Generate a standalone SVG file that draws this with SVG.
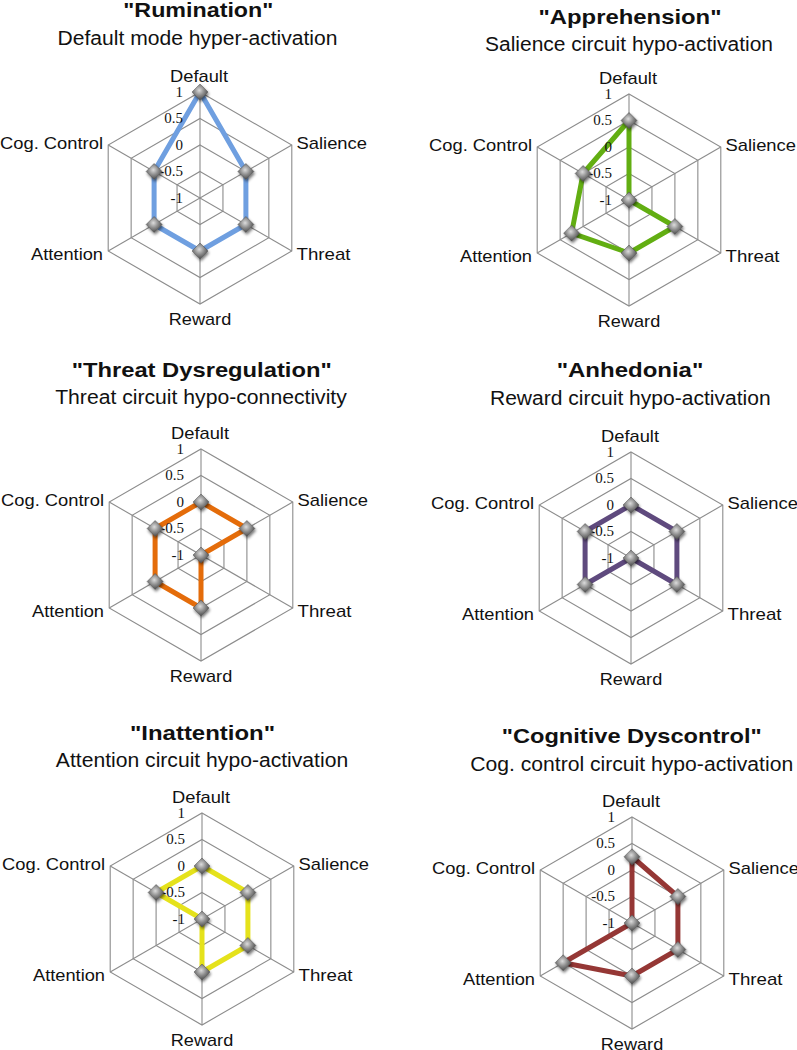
<svg xmlns="http://www.w3.org/2000/svg" xmlns:xlink="http://www.w3.org/1999/xlink" width="797" height="1050" viewBox="0 0 797 1050">
<style>
.grid{fill:none;stroke:#8c8c8c;stroke-width:1.1}
.t{font-family:"Liberation Sans",Arial,sans-serif;font-weight:bold;font-size:21px;fill:#111;text-anchor:middle}
.st{font-family:"Liberation Sans",Arial,sans-serif;font-size:20px;fill:#111;text-anchor:middle}
.ax{font-family:"Liberation Sans",Arial,sans-serif;font-size:17px;fill:#111}
.num{font-family:"Liberation Serif","Times New Roman",serif;font-size:15px;fill:#111;text-anchor:end}
.data{fill:none;stroke-width:5;stroke-linejoin:round;stroke-linecap:round}
</style>
<defs>
<radialGradient id="mg" cx="0.45" cy="0.4" r="0.62">
<stop offset="0" stop-color="#dcdcdc"/>
<stop offset="0.5" stop-color="#8c8c8c"/>
<stop offset="1" stop-color="#454545"/>
</radialGradient>
<filter id="sh" x="-60%" y="-60%" width="220%" height="220%">
<feGaussianBlur in="SourceAlpha" stdDeviation="1.5"/>
<feOffset dx="1" dy="1.5" result="o"/>
<feComponentTransfer><feFuncA type="linear" slope="0.55"/></feComponentTransfer>
<feMerge><feMergeNode/><feMergeNode in="SourceGraphic"/></feMerge>
</filter>
<path id="dia" d="M0,-8 L8,0 L0,8 L-8,0Z" fill="url(#mg)" stroke="#555" stroke-width="0.5" filter="url(#sh)"/>
<g id="grid">
<polygon class="grid" points="0,-106 91.8,-53 91.8,53 0,106 -91.8,53 -91.8,-53"/>
<polygon class="grid" points="0,-79.5 68.85,-39.75 68.85,39.75 0,79.5 -68.85,39.75 -68.85,-39.75"/>
<polygon class="grid" points="0,-53 45.9,-26.5 45.9,26.5 0,53 -45.9,26.5 -45.9,-26.5"/>
<polygon class="grid" points="0,-26.5 22.95,-13.25 22.95,13.25 0,26.5 -22.95,13.25 -22.95,-13.25"/>
<line class="grid" x1="0" y1="-106" x2="0" y2="106"/>
<line class="grid" x1="91.8" y1="-53" x2="-91.8" y2="53"/>
<line class="grid" x1="91.8" y1="53" x2="-91.8" y2="-53"/>
</g>
<g id="axlabels">
<text class="ax" x="-1" y="-116" text-anchor="middle" textLength="58" lengthAdjust="spacingAndGlyphs">Default</text>
<text class="ax" x="96.5" y="-49.5" textLength="70.5" lengthAdjust="spacingAndGlyphs">Salience</text>
<text class="ax" x="96.5" y="61.5" textLength="54" lengthAdjust="spacingAndGlyphs">Threat</text>
<text class="ax" x="0" y="127" text-anchor="middle" textLength="62.5" lengthAdjust="spacingAndGlyphs">Reward</text>
<text class="ax" x="-97" y="62" text-anchor="end" textLength="72" lengthAdjust="spacingAndGlyphs">Attention</text>
<text class="ax" x="-97" y="-49.5" text-anchor="end" textLength="103" lengthAdjust="spacingAndGlyphs">Cog. Control</text>
</g>
<g id="nums">
<text class="num" x="-17" y="-101.5">1</text>
<text class="num" x="-17" y="-75.5">0.5</text>
<text class="num" x="-17" y="-48.5">0</text>
<text class="num" x="-17" y="-22">-0.5</text>
<text class="num" x="-17" y="5">-1</text>
</g>
</defs>

<g id="chart-rumination">
<text class="t" x="198.3" y="17" textLength="150" lengthAdjust="spacingAndGlyphs">"Rumination"</text>
<text class="st" x="197.5" y="45" textLength="280" lengthAdjust="spacingAndGlyphs">Default mode hyper-activation</text>
<g transform="translate(200,198)">
<use href="#grid"/><use href="#axlabels"/>
<polygon class="data" stroke="#6F9FE0" points="0,-106 45.9,-26.5 45.9,26.5 0,53 -45.9,26.5 -45.9,-26.5"/>
<use href="#nums"/>
<use href="#dia" x="0" y="-106"/><use href="#dia" x="45.9" y="-26.5"/><use href="#dia" x="45.9" y="26.5"/><use href="#dia" x="0" y="53"/><use href="#dia" x="-45.9" y="26.5"/><use href="#dia" x="-45.9" y="-26.5"/>
</g>
</g>

<g id="chart-apprehension">
<text class="t" x="630" y="24" textLength="183" lengthAdjust="spacingAndGlyphs">"Apprehension"</text>
<text class="st" x="629" y="50.7" textLength="288" lengthAdjust="spacingAndGlyphs">Salience circuit hypo-activation</text>
<g transform="translate(629,200)">
<use href="#grid"/><use href="#axlabels"/>
<polygon class="data" stroke="#62AE12" points="0,-79.5 0,0 45.9,26.5 0,53 -57.37,33.13 -45.9,-26.5"/>
<use href="#nums"/>
<use href="#dia" x="0" y="-79.5"/><use href="#dia" x="0" y="0"/><use href="#dia" x="45.9" y="26.5"/><use href="#dia" x="0" y="53"/><use href="#dia" x="-57.37" y="33.13"/><use href="#dia" x="-45.9" y="-26.5"/>
</g>
</g>

<g id="chart-threat">
<text class="t" x="201.7" y="376.7" textLength="260" lengthAdjust="spacingAndGlyphs">"Threat Dysregulation"</text>
<text class="st" x="201" y="404" textLength="291.7" lengthAdjust="spacingAndGlyphs">Threat circuit hypo-connectivity</text>
<g transform="translate(201,555)">
<use href="#grid"/><use href="#axlabels"/>
<polygon class="data" stroke="#E46C0A" points="0,-53 45.9,-26.5 0,0 0,53 -45.9,26.5 -45.9,-26.5"/>
<use href="#nums"/>
<use href="#dia" x="0" y="-53"/><use href="#dia" x="45.9" y="-26.5"/><use href="#dia" x="0" y="0"/><use href="#dia" x="0" y="53"/><use href="#dia" x="-45.9" y="26.5"/><use href="#dia" x="-45.9" y="-26.5"/>
</g>
</g>

<g id="chart-anhedonia">
<text class="t" x="630" y="376.7" textLength="146.7" lengthAdjust="spacingAndGlyphs">"Anhedonia"</text>
<text class="st" x="630.3" y="405" textLength="280.7" lengthAdjust="spacingAndGlyphs">Reward circuit hypo-activation</text>
<g transform="translate(631,558)">
<use href="#grid"/><use href="#axlabels"/>
<polygon class="data" stroke="#5F4A7E" points="0,-53 45.9,-26.5 45.9,26.5 0,0 -45.9,26.5 -45.9,-26.5"/>
<use href="#nums"/>
<use href="#dia" x="0" y="-53"/><use href="#dia" x="45.9" y="-26.5"/><use href="#dia" x="45.9" y="26.5"/><use href="#dia" x="0" y="0"/><use href="#dia" x="-45.9" y="26.5"/><use href="#dia" x="-45.9" y="-26.5"/>
</g>
</g>

<g id="chart-inattention">
<text class="t" x="202.5" y="740" textLength="145" lengthAdjust="spacingAndGlyphs">"Inattention"</text>
<text class="st" x="202" y="767.3" textLength="292.3" lengthAdjust="spacingAndGlyphs">Attention circuit hypo-activation</text>
<g transform="translate(202,919)">
<use href="#grid"/><use href="#axlabels"/>
<polygon class="data" stroke="#E5E21B" points="0,-53 45.9,-26.5 45.9,26.5 0,53 0,0 -45.9,-26.5"/>
<use href="#nums"/>
<use href="#dia" x="0" y="-53"/><use href="#dia" x="45.9" y="-26.5"/><use href="#dia" x="45.9" y="26.5"/><use href="#dia" x="0" y="53"/><use href="#dia" x="0" y="0"/><use href="#dia" x="-45.9" y="-26.5"/>
</g>
</g>

<g id="chart-cognitive-dyscontrol">
<text class="t" x="631.7" y="743.3" textLength="260" lengthAdjust="spacingAndGlyphs">"Cognitive Dyscontrol"</text>
<text class="st" x="631.7" y="771" textLength="323" lengthAdjust="spacingAndGlyphs">Cog. control circuit hypo-activation</text>
<g transform="translate(632,923)">
<use href="#grid"/><use href="#axlabels"/>
<polygon class="data" stroke="#953735" points="0,-66.25 45.9,-26.5 45.9,26.5 0,53 -68.85,39.75 0,0"/>
<use href="#nums"/>
<use href="#dia" x="0" y="-66.25"/><use href="#dia" x="45.9" y="-26.5"/><use href="#dia" x="45.9" y="26.5"/><use href="#dia" x="0" y="53"/><use href="#dia" x="-68.85" y="39.75"/><use href="#dia" x="0" y="0"/>
</g>
</g>
</svg>
